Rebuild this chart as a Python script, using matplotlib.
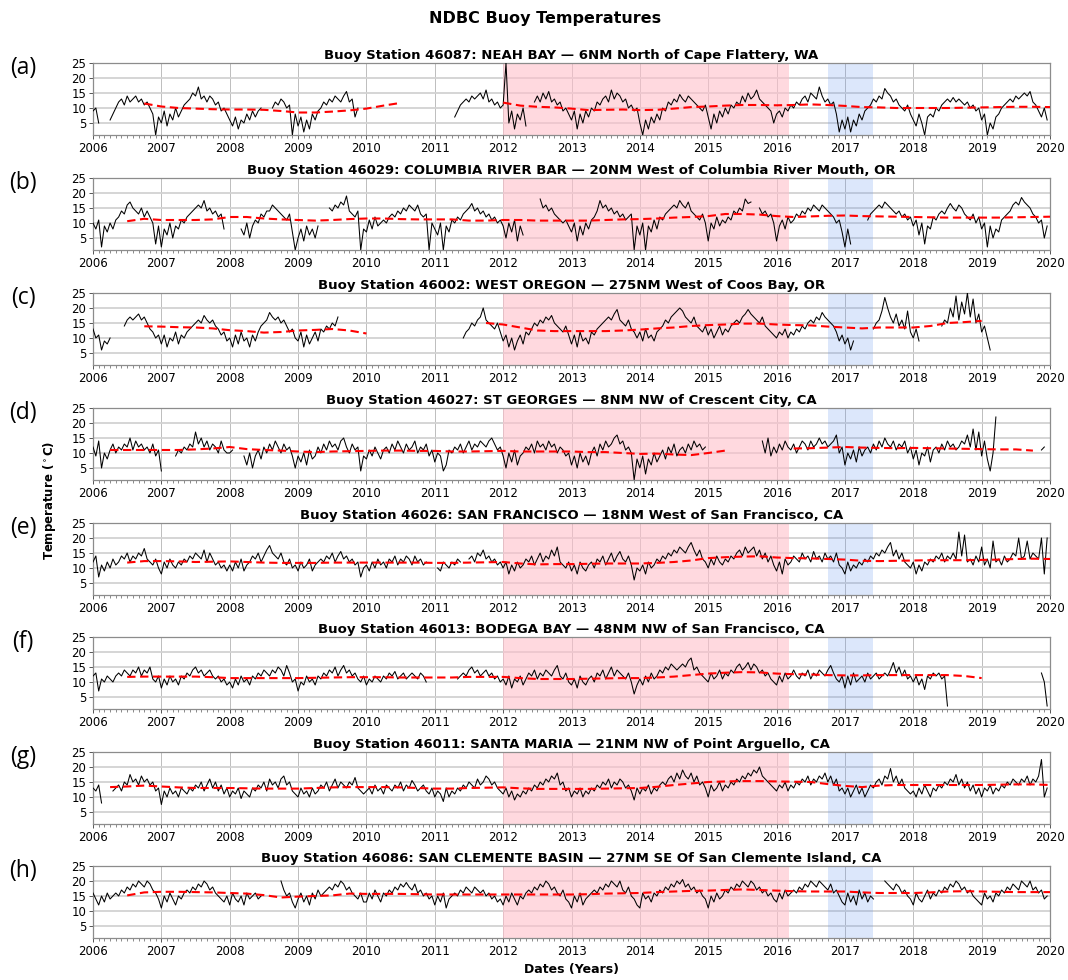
import numpy as np
import matplotlib
matplotlib.use("Agg")
import matplotlib.pyplot as plt

N = None

# ---------------- axis values ----------------
year_ticks = list(range(2006, 2021))
temp_ticks = [5, 10, 15, 20, 25]
start_year = 2006
samples_per_year = 24       # black series: half-monthly readings
trend_per_year = 4          # red trend: quarterly readings

warm_blob_span = (2012.0, 2016.18)
el_nino_span = (2016.75, 2017.41)

panel_letters = ["(a)", "(b)", "(c)", "(d)", "(e)", "(f)", "(g)", "(h)"]
station_titles = [
    "Buoy Station 46087: NEAH BAY \u2014 6NM North of Cape Flattery, WA",
    "Buoy Station 46029: COLUMBIA RIVER BAR \u2014 20NM West of Columbia River Mouth, OR",
    "Buoy Station 46002: WEST OREGON \u2014 275NM West of Coos Bay, OR",
    "Buoy Station 46027: ST GEORGES \u2014 8NM NW of Crescent City, CA",
    "Buoy Station 46026: SAN FRANCISCO \u2014 18NM West of San Francisco, CA",
    "Buoy Station 46013: BODEGA BAY \u2014 48NM NW of San Francisco, CA",
    "Buoy Station 46011: SANTA MARIA \u2014 21NM NW of Point Arguello, CA",
    "Buoy Station 46086: SAN CLEMENTE BASIN \u2014 27NM SE Of San Clemente Island, CA",
]

# ---------------- temperature series (one row per year, 24 half-month values) ----------------
temp_46087 = [
    [9, 10, 5, N, N, N, 6, 8, 10, 12, 13, 11, 14, 12, 13, 14, 12, 13, 11, 12, 10, 8, 1, 7],
    [5, 9, 4, 8, 6, 10, 7, 9, 11, 12, 13, 15, 14, 17, 13, 14, 12, 14, 13, 11, 12, 9, 10, 8],
    [6, 4, 7, 3, 6, 5, 8, 6, 9, 7, 9, 10, N, 11, N, 10, 12, 11, 13, 12, 10, 11, 1, 8],
    [4, 7, 2, 6, 3, 8, 6, 9, 10, 12, 11, 13, 12, 14, 13, 12, 14, 15.5, 12, 13, 7, 10, N, N],
    [N] * 24,
    [N] * 7 + [7, 9, 11, 12, 13, 12, 14, 13, 14, 15, 13, 16, 12, 13, 11, 12, 10],
    [11, 25, 5, 9, 3, 8, 6, 10, 4, N, N, 12, 14, 12, 15, 13, 15.5, 12, 13, 11, 12, 9, 10, 8],
    [6, 9, 3, 8, 5, 9, 7, 10, 9, 12, 11, 13, 14, 12, 16, 13, 15, 14, 12, 13, 10, 11, 9, 10],
    [5, 1, 6, 3, 7, 5, 8, 6, 10, 9, 12, 11, 13, 12, 14.5, 13, 12, 14, 13, 12, 11, 10, 9, 11],
    [7, 3, 8, 5, 9, 7, 10, 8, 11, 10, 12, 11, 14, 12, 15, 13, 14, 16, 13, 12, 11, 10, 9, 5],
    [8, 9, 7, 10, 9, 11, 10, 12, 11, 13, 14, 12, 15, 14, 13, 17, 14, 12, 13, 11, 12, 8, 2, 6],
    [3, 7, 2, 6, 4, 8, 6, 9, 10, 11, 13, 12, 14, 13, 16.5, 15, 14, 12, 13, 11, 10, 9, 11, 8],
    [6, 4, 8, 5, 1, 7, 8, 7, 10, 9, 11, 12, 13, 12, 13.5, 12, 13, 12, 11, 12, 10, 11, 9, 10],
    [6, 8, 1, 5, 3, 7, 8, 10, 11, 12, 13, 12, 14, 13, 14, 15, 14, 15.5, 12, 11, 9, 7, 10, 6],
]
temp_46029 = [
    [10, 8, 11, 2, 9, 7, 10, 8, 11, 12, 14, 13, 16, 17, 15, 14, 13, 15, 12, 14, 12, 10, 3, 9],
    [2, 8, 6, 10, 5, 9, 8, 11, 10, 12, 13, 14, 15, 16, 15, 17.5, 14, 15, 13, 14, 12, 13, 8, N],
    [N, N, N, N, 8, 6, 10, 5, 9, 11, 10, 13, 12, 14, 14, 16, 15, 14, 13, 12, 11, 13, 7, 1],
    [5, 8, 4, 9, 6, 8, 5, 9, N, N, N, 15, 14, 16, 15, 17, 16, 19, 14, 13, 12, 14, 1, 8],
    [7, 11, 8, 12, 9, 10, 11, 10, 12, 13, 12, 14, 13, 15, 14, 16, 15, 14, 16, 13, 12, 13, 1, 10],
    [8, 6, 10, 1, 9, 7, 11, 10, 12, 11, 13, 14, 15, 16.5, 14, 15, 13, 14, 12, 13, 11, 12, 10, 11],
    [9, 5, 10, 7, 11, 4, 9, 6, N, N, N, N, N, 18, 15, 16, 14, 15, 13, 12, 11, 10, 11, 9],
    [7, 10, 4, 9, 6, 10, 8, 11, 12, 14, 17.5, 15, 16, 14, 15, 13, 14, 12, 13, 11, 12, 13, 1, 9],
    [6, 10, 1, 9, 7, 11, 8, 12, 11, 13, 14, 15, 16, 15, 17.5, 16, 15, 17, 14, 13, 12, 11, 13, 10],
    [4, 10, 8, 12, 9, 11, 10, 12, 11, 14, 13, 15, 14, 18, 16.5, 17, N, N, 15, 13, 14, 12, 13, 10],
    [4, 9, 11, 8, 12, 10, 11, 13, 12, 14, 13, 15, 14, 16, 15, 14, 16, 15, 14, 13, 12, 10, 11, 7],
    [2, 8, 3, N, N, N, N, N, 11, 13, 14, 15, 16, 15, 17, 16, 15, 14, 13, 14, 12, 13, 11, 12],
    [9, 11, 6, 10, 3, 9, 8, 12, 11, 13, 14, 13, 15, 16.5, 15, 14, 16, 15, 13, 12, 11, 13, 10, 12],
    [8, 10, 2, 9, 5, 8, 7, 11, 12, 13, 14, 16, 17, 16, 18.5, 17, 16, 15, 13, 12, 10, 11, 5, 9],
]
temp_46002 = [
    [13, 10, 11, 6, 9, 8, 10, N, N, N, N, 14, 16, 17, 16, 17, 18, 16, 17, 15, 13, 12, 10, 11],
    [8, 11, 7, 10, 9, 12, 8, 11, 10, 12, 13, 14, 15, 16, 15, 17.5, 16, 15, 16, 14, 13, 11, 12, 9],
    [10, 7, 11, 8, 12, 9, 10, 7, 11, 9, 12, 14, 15, 16, 18.5, 17, 16, 17, 15, 16, 14, 12, 13, 10],
    [9, 12, 7, 11, 8, 10, 12, 9, 13, 12, 14, 13, 15, 14, 17] + [N] * 9,
    [N] * 24,
    [N] * 10 + [10, 12, 13, 15, 14, 16, 17, 20, 16, 15, 14, 13, 15, 12],
    [9, 11, 7, 10, 6, 9, 11, 8, 12, 11, 13, 15, 14, 16, 15, 17, 16, 17.5, 15, 14, 13, 12, 14, 11],
    [8, 11, 7, 12, 9, 10, 8, 12, 11, 13, 14, 15, 16, 17, 16, 18, 19.5, 16, 15, 14, 16, 13, 12, 10],
    [12, 9, 13, 10, 11, 9, 12, 13, 14, 16, 15, 17, 18, 19, 20, 19, 17, 16, 15, 17, 14, 13, 12, 14],
    [11, 13, 10, 12, 14, 11, 13, 12, 14, 15, 16, 15, 17, 18, 19.5, 18, 17, 16, 15, 17, 14, 13, 12, 11],
    [10, 12, 11, 13, 10, 12, 11, 13, 12, 14, 13, 15, 16, 15, 17, 16, 18.5, 17, 16, 15, 14, 12, 9, 11],
    [8, 10, 6, 9, N, N, N, N, N, N, 13, 15, 16, 19, 23.5, 20, 17, 15, 18, 14, 16, 13, 19, 12],
    [10, 13, 9, N, N, N, N, N, N, N, 14, 16, 15, 20, 17, 24, 16, 22, 18, 25, 17, 23, 15, 18],
    [12, 14, 10, 6] + [N] * 20,
]
temp_46027 = [
    [12, 9, 14, 5, 10, 8, 11, 13, 10, 12, 11, 13, 12, 15, 11, 14, 12, 13, 11, 12, 10, 13, 9, 11],
    [4, N, N, N, N, 9, 11, 10, 12, 11, 13, 12, 17, 13, 15, 12, 14, 11, 13, 12, 10, 14, 11, 10],
    [10, 11, N, N, N, 9, 6, 10, 5, 9, 11, 8, 12, 10, 13, 11, 14, 12, 10, 13, 11, 12, 9, 5],
    [9, 7, 10, 6, 11, 8, 9, 12, 10, 13, 11, 14, 12, 13, 11, 14, 15, 12, 10, 13, 11, 12, 4, 9],
    [8, 11, 9, 12, 10, 8, 11, 12, 10, 13, 11, 14, 12, 10, 13, 11, 12, 14, 10, 12, 11, 13, 9, 11],
    [7, 10, 9, 4, 6, 11, 10, 12, 11, 13, 10, 12, 14, 11, 13, 12, 14, 13, 12, 14, 15, 13, 11, 12],
    [9, 5, 10, 7, 11, 6, 9, 10, 12, 11, 13, 10, 14, 12, 13, 11, 14, 12, 13, 10, 12, 11, 9, 10],
    [6, 9, 5, 10, 7, 9, 6, 10, 12, 9, 13, 11, 14, 12, 13, 15, 16, 13, 14, 11, 12, 10, 1, 8],
    [5, 9, 3, 8, 6, 10, 7, 9, 11, 8, 12, 10, 13, 9, 11, 12, 10, 13, 11, 14, 12, 13, 11, 12],
    [N] * 19 + [14, 10, 15, 9, 12],
    [10, 13, 11, 14, 12, 11, 13, 10, 12, 14, 13, 11, 14, 12, 13, 15, 13, 14, 12, 13, 14, 16, 10, 12],
    [6, 10, 8, 11, 7, 12, 9, 11, 12, 10, 13, 11, 14, 12, 15, 13, 12, 14, 11, 13, 12, 14, 10, 12],
    [8, 11, 6, 10, 9, 12, 7, 11, 12, 10, 13, 11, 14, 12, 13, 11, 12, 14, 13, 16, 12, 18, 11, 17],
    [9, 14, 8, 4, 10, 22] + [N] * 15 + [11, 12, N],
]
temp_46026 = [
    [12, 14, 7, 11, 9, 12, 10, 13, 11, 12, 14, 13, 15, 12, 14, 13, 15, 14, 16.5, 13, 12, 11, 13, 10],
    [8, 12, 10, 13, 11, 10, 12, 11, 13, 12, 14, 13, 15, 14, 13, 16, 12, 15, 13, 11, 12, 10, 11, 9],
    [11, 9, 12, 10, 13, 9, 11, 12, 14, 13, 15, 12, 14, 16, 17.5, 15, 14, 13, 15, 12, 11, 13, 10, 11],
    [9, 12, 10, 11, 13, 9, 11, 12, 13, 12, 14, 13, 15, 12, 14, 15.5, 13, 14, 12, 13, 11, 12, 7, 10],
    [11, 9, 12, 10, 13, 11, 12, 10, 13, 12, 14, 11, 13, 12, 14, 13, 11, 14, 12, 13, 11, 12, N, N],
    [N, 10, 9, 12, 11, 10, 12, 11, 13, 12, N, N, 13, 14, 12, 15, 14, 16, 13, 14, 12, 13, 11, 12],
    [10, 12, 8, 11, 9, 12, 10, 11, 13, 12, 14, 11, 13, 15, 12, 14, 13, 16, 14, 17, 12, 11, 10, 12],
    [9, 11, 8, 12, 10, 9, 11, 12, 10, 13, 12, 14, 11, 13, 15, 12, 14, 15.5, 13, 12, 14, 11, 6, 10],
    [9, 11, 8, 12, 10, 11, 13, 12, 14, 13, 15, 14, 16, 15, 17, 16, 15, 17, 18.5, 16, 14, 16, 13, 12],
    [10, 13, 11, 14, 12, 11, 13, 12, 14, 13, 15, 16, 14, 17, 15, 16, 17, 14, 16, 13, 15, 12, 14, 11],
    [9, 12, 8, 13, 11, 12, 14, 13, 12, 15, 13, 14, 12, 15.5, 13, 14, 12, 15, 13, 14, 12, 15, 11, 10],
    [8, 12, 9, 11, 10, 12, 11, 13, 12, 14, 13, 15, 14, 16, 15, 17, 18.5, 14, 16, 13, 15, 12, 11, 10],
    [12, 8, 11, 9, 12, 11, 13, 12, 14, 13, 15, 12, 14, 13, 15, 13, 22, 14, 21, 12, 13, 11, 14, 12],
    [17, 11, 13, 10, 19, 12, 13, 11, 14, 12, 13, 15, 14, 20, 13, 14, 19, 13, 15, 14, 13, 20, 8, 20],
]
temp_46013 = [
    [12, 13, 7, 11, 10, 12, 11, 10, 12, 13, 12, 14, 13, 12, 14, 13, 15, 12, 14, 13, 15, 11, 10, 12],
    [8, 11, 9, 12, 10, 11, 9, 12, 11, 13, 12, 14, 15, 13, 14, 12, 13, 14, 12, 11, 12, 10, 11, 9],
    [10, 8, 11, 9, 12, 10, 11, 9, 12, 11, 13, 12, 14, 13, 12, 14, 13, 15, 14, 12, 15.5, 13, 10, 11],
    [7, 10, 9, 12, 10, 11, 9, 12, 11, 13, 12, 14, 13, 15, 12, 14, 15.5, 13, 14, 12, 13, 11, 10, 12],
    [9, 11, 10, 12, 11, 10, 12, 11, 13, 12, 13.5, 11, 12, 13, 11, 12, 13, 12, 11, 13, 12, 10, N, N],
    [N] * 8 + [11, 12, 13, 12, 14, 15, 13, 14, 12, 13, 14, 12, 13, 11, 12, 10],
    [11, 9, 12, 8, 11, 10, 12, 9, 11, 13, 12, 14, 11, 13, 12, 14, 13, 12, 14, 15.5, 12, 11, 13, 10],
    [9, 11, 8, 12, 10, 9, 11, 12, 10, 13, 12, 14, 11, 13, 15, 12, 14, 13, 12, 11, 13, 10, 6, 9],
    [11, 9, 12, 10, 13, 11, 12, 14, 13, 15, 14, 16, 15, 14, 15, 16, 15, 17, 18, 14, 15, 13, 12, 11],
    [10, 13, 11, 12, 14, 11, 13, 12, 14, 13, 15, 16, 14, 15, 16.5, 14, 16, 15, 13, 14, 12, 13, 11, 10],
    [9, 12, 10, 13, 11, 12, 14, 12, 11, 13, 12, 14, 11, 13, 12, 14, 13, 12, 14, 15.5, 13, 11, 10, 12],
    [8, 12, 9, 13, 10, 11, 12, 10, 13, 11, 12, 13, 11, 12, 13, 12, 14, 16.5, 13, 15, 12, 14, 11, 12],
    [10, 12, 9, 11, 7.5, 12, 11, 13, 12, 13, 11, 12, 2] + [N] * 11,
    [N] * 21 + [13, 10, 2],
]
temp_46011 = [
    [13, 12, 14, 8, N, N, N, 12, 13, 14, 12, 15, 14, 17.5, 15, 16, 14, 17, 15, 16, 14, 15, 12, 13],
    [7.5, 12, 10, 13, 11, 12, 10, 13, 12, 11, 13, 12, 14, 13, 15, 12, 14, 16, 13, 15, 12, 14, 11, 13],
    [10, 12, 11, 13, 9.5, 12, 11, 10, 13, 12, 14, 13, 15, 12, 16, 14, 15, 13, 16, 17, 14, 15, 12, 11],
    [10, 13, 11, 12, 10, 13, 11, 12, 14, 13, 15, 12, 14, 16, 13, 15, 14, 13, 15, 14, 16.5, 13, 12, 11],
    [12, 13, 11, 14, 12, 13, 11, 14, 13, 12, 14, 13, 15, 12, 14, 13, 15.5, 14, 12, 13, 14, 12, 11, 13],
    [10, 12, 11, 8.5, 13, 10, 12, 11, 13, 12, 14, 13, 15, 14, 13, 16, 14, 15, 17, 16, 14, 15, 13, 12],
    [11, 13, 10, 12, 9, 11, 10, 12, 11, 13, 12, 14, 13, 15, 14, 16, 15, 17, 16, 18, 14, 15, 12, 13],
    [10, 12, 11, 13, 10, 12, 11, 13, 12, 14, 13, 15, 14, 16, 13, 15, 14, 16, 15, 13, 14, 12, 9, 13],
    [11, 13, 12, 14, 11, 13, 12, 14, 15, 14, 16, 17, 15, 18, 16, 19, 17, 16, 18, 15, 17, 14, 15, 13],
    [10, 14, 12, 13, 15, 12, 14, 13, 15, 14, 16, 15, 17, 16, 18, 17, 19, 18, 20, 17, 16, 15, 14, 13],
    [12, 14, 13, 15, 12, 14, 13, 15, 14, 16, 15, 17, 14, 16, 15, 17, 16, 18, 15, 17, 14, 16, 12, 13],
    [11, 13, 10, 12, 14, 11, 13, 10, 12, 14, 13, 15, 16, 14, 17, 16, 19.5, 15, 17, 14, 16, 13, 12, 11],
    [12, 10, 13, 11, 14, 12, 10, 13, 12, 14, 13, 15, 14, 16, 15, 17.5, 14, 16, 13, 15, 12, 14, 11, 13],
    [10, 13, 12, 14, 11, 13, 12, 14, 13, 15, 14, 16, 15, 14, 16, 15, 17, 14, 16, 15, 17, 22.5, 10, 13],
]
temp_46086 = [
    [16, 14, 12, 15, 13, 16, 14, 15, 16, 15, 17, 16, 18, 17, 19, 18, 20, 19, 18, 20, 19, 17, 16, 14],
    [11, 15, 13, 16, 14, 12, 15, 14, 16, 17, 16, 18, 17, 19, 18, 20, 19, 17, 18, 16, 15, 14, 13, 15],
    [12, 16, 14, 13, 15, 12, 16, 14, 15, 16, 14, 15, N, N, N, N, N, N, 20, 17, 15, 16, 13, 11],
    [14, 16, 13, 15, 12, 16, 14, 17, 15, 16, 17, 18, 17, 19, 18, 20, 19, 17, 18, 16, 15, 14, 16, 13],
    [13, 16, 14, 17, 15, 13, 16, 15, 17, 16, 18, 17, 19, 18, 19.5, 18, 17, 19, 16, 17, 15, 16, 14, 15],
    [12, 15, 13, 16, 11, 14, 15, 16, 15, 17, 16, 18, 17, 16, 18, 17, 16, 17, 15, 16, 14, 15, 13, 14],
    [12, 15, 13, 16, 14, 12, 15, 14, 16, 17, 16, 18, 17, 19, 18, 20, 19, 17, 18, 16, 15, 17, 14, 13],
    [11, 15, 13, 16, 12, 14, 15, 16, 17, 16, 18, 17, 19, 18, 20, 19, 18, 20, 17, 16, 18, 15, 14, 12],
    [11, 16, 14, 15, 13, 16, 15, 17, 16, 18, 17, 19, 18, 20, 19, 20.5, 18, 19, 17, 18, 16, 17, 15, 14],
    [11, 15, 13, 16, 14, 15, 17, 16, 18, 17, 19, 18, 20, 19, 18, 20, 19, 17, 18, 16, 17, 15, 16, 14],
    [13, 16, 14, 17, 15, 16, 17, 16, 18, 17, 19, 18, 20, 19, 18, 20, 19, 18, 17, 19, 16, 17, 15, 13],
    [12, 16, 13, 15, 12, 17, 14, 16, 13, 15, 14, N, N, N, 20, 19, 18, 17, 19, 18, 16, 17, 15, 14],
    [12, 16, 14, 13, 15, 17, 14, 16, 15, 17, 16, 18, 17, 19, 18, 20, 19, 17, 18, 16, 17, 15, 14, 13],
    [12, 16, 14, 15, 13, 16, 15, 17, 16, 18, 17, 19, 18, 17, 20, 19, 18, 20, 17, 18, 16, 17, 14, 15],
]

# ---------------- red trend lines (quarterly, 2006.0 ... 2020.0) ----------------
trend_46087 = [N, N, N, 11.5, 10.5, 10, 9.8, 9.6, 9.5, 9.5, 9.4, 9.0, 8.5, 8.5, 8.8, 9.2,
               9.8, 10.8, 11.7, N, N, N, N, N, 11.8, 10.8, 10.4, 10.2, 9.8, 9.3, 9.4, 9.5,
               9.3, 9.4, 9.8, 10.3, 10.5, 10.8, 11, 11, 10.9, 11, 11.2, 11, 10.7, 10.3, 10.2, 10,
               10, 10, 10, 10.1, 10.2, 10.3, 10.4, 10.4, 10.3]
trend_46029 = [N, N, 10.6, 11.4, 11, 11, 11, 11.2, 12.0, 12, 11.5, 11.2, 11, 10.8, 11, 11.3,
               11.5, 11.5, 11.3, 11.2, 11.2, 11.2, 10.8, 10.8, 11, 11, 10.8, 10.8, 10.8, 10.8, 11, 11.2,
               11.3, 11.5, 11.8, 12, 12.3, 13, 13, 12.8, 12.3, 12, 12.2, 12.4, 12.5, 12.3, 12.2, 12.1,
               12, 11.9, 11.8, 11.8, 11.8, 11.8, 11.9, 12, 12.1]
trend_46002 = [N, N, N, 13.9, 13.8, 13.6, 13.5, 13.2, 12.6, 12.3, 11.8, 12.0, 12.5, 12.7, 13, 12.5,
               11.5, N, N, N, N, N, N, 15, 14.5, 13.5, 12.5, 12.3, 12.3, 12.3, 12.3, 12.5,
               12.8, 13.2, 13.5, 14, 14.3, 14.5, 14.8, 14.8, 14.5, 14.3, 14.2, 13.8, 13.5, 13.2, 13.5, 13.5,
               13.5, 14, 15, 15.3, 15.7, N, N, N, N]
trend_46027 = [N, 11, 11, 11, 11, 11, 11.2, 11.5, 12.0, 11.3, 11, 10.8, 10.5, 10.3, 10.5, 10.6,
               10.7, 10.8, 10.8, 10.7, 10.7, 10.5, 10.5, 10.6, 10.7, 10.5, 10.5, 10.5, 10.5, 10.3, 10.3, 10,
               9.7, 9.8, 9.5, 9.3, 10, 10.8, N, N, N, 11.5, 11.6, 11.8, 12, 11.8, 11.7, 11.6,
               11.7, 11.6, 11.5, 11.4, 11.3, 11.2, 11.2, 10.8, N]
trend_46026 = [N, N, 11.8, 12.3, 12.3, 12.2, 12, 12.1, 12.2, 12, 11.8, 11.7, 11.7, 11.7, 11.8, 11.8,
               11.8, 11.8, 11.8, 11.8, 11.7, 11.7, 11.8, 11.9, 12, 11.5, 11.2, 11.3, 11.3, 11.4, 11.5, 11.5,
               11.5, 11.7, 12, 12.5, 13.3, 13.6, 13.8, 13.9, 13.5, 13.3, 13.2, 13, 12.8, 12.4, 12.3, 12.4,
               12.5, 12.6, 12.6, 12.6, 12.7, 12.8, 13, 13.1, 13]
trend_46013 = [N, N, 11.7, 11.8, 11.8, 11.8, 11.8, 11.6, 11.3, 11.3, 11.3, 11.3, 11.3, 11.4, 11.5, 11.6,
               11.6, 11.6, 11.5, 11.5, 11.5, 11.5, 11.7, 11.7, 11.7, 11.3, 11, 11, 11, 11.1, 11.2, 11.3,
               11.3, 11.5, 11.8, 12.3, 12.8, 13.1, 13.3, 13.2, 12.8, 12.6, 12.5, 12.3, 12.2, 12.2, 12.3, 12.3,
               12.3, 12.3, 12.3, 12, 11.3, N, N, N, N]
trend_46011 = [N, 13.3, 13.5, 13.8, 13.5, 13.2, 13, 13, 13, 12.9, 12.8, 12.8, 12.8, 13, 13.2, 13.3,
               13.3, 13.3, 13.2, 13, 12.8, 12.8, 13, 13.1, 13.2, 12.9, 12.7, 12.7, 12.7, 12.7, 12.8, 12.9,
               13, 13.4, 14, 14.5, 15, 15.2, 15.3, 15.3, 15.2, 15.1, 15, 14.3, 13.7, 13.3, 13.8, 14,
               14, 14, 14, 14, 14, 14.1, 14.2, 14.2, 14]
trend_46086 = [N, N, 15.2, 16.2, 16.4, 16.4, 16.3, 16.2, 16, 15.8, 15.3, 14.5, 14.8, 15, 15.2, 15.8,
               15.7, 15.7, 15.7, 15.6, 15.5, 15.5, 15.5, 15.5, 15.5, 15.5, 15.5, 15.5, 15.5, 15.6, 15.8, 15.9,
               16, 16.3, 16.5, 16.7, 16.8, 17, 17.2, 17, 16.8, 16.6, 16.5, 16.5, 16.5, 16.2, 16, 16,
               16, 16.2, 16.5, 16.6, 16.5, 16.4, 16.3, 16.3, 16.3]

temp_series = [temp_46087, temp_46029, temp_46002, temp_46027,
               temp_46026, temp_46013, temp_46011, temp_46086]
trend_series = [trend_46087, trend_46029, trend_46002, trend_46027,
                trend_46026, trend_46013, trend_46011, trend_46086]


def flatten_rows(rows, per):
    out = []
    for r in rows:
        r = list(r)
        if len(r) != per:
            r = (r + [None] * per)[:per]
        out.extend(r)
    return np.array(out, dtype=float)


# ---------------- figure ----------------
W, H = 1068, 980
fig = plt.figure(figsize=(W / 100, H / 100), dpi=100)

left_px, right_px = 93, 1050
axes_top_px = [63, 178, 293, 408, 523, 637, 752, 866]
axes_h_px = 72

fig.text(0.51, 1 - 18 / H, "NDBC Buoy Temperatures", ha="center", va="center",
         fontsize=11.5, fontweight="bold")

minor_x = np.arange(start_year, year_ticks[-1] + 1e-9, 1 / 12)

for k in range(8):
    top = axes_top_px[k]
    ax = fig.add_axes([left_px / W, 1 - (top + axes_h_px) / H,
                       (right_px - left_px) / W, axes_h_px / H])
    ax.set_axisbelow(True)
    ax.grid(True, axis="y", color="#d2d2d2", linewidth=1.3)
    ax.grid(True, axis="x", color="#bdbdbd", linewidth=0.7)

    ax.axvspan(*warm_blob_span, facecolor="pink", alpha=0.6, linewidth=0, zorder=1)
    ax.axvspan(*el_nino_span, facecolor="cornflowerblue", alpha=0.22, linewidth=0, zorder=1)

    vals = flatten_rows(temp_series[k], samples_per_year)
    t = start_year + np.arange(len(vals)) / samples_per_year
    ax.plot(t, vals, color="black", linewidth=0.75, zorder=3)

    tr = np.array([np.nan if v is None else v for v in trend_series[k]], dtype=float)
    tt = start_year + np.arange(len(tr)) / trend_per_year
    ax.plot(tt, tr, color="red", linewidth=1.5, linestyle=(0, (4, 2.2)), zorder=4)

    ax.set_xlim(year_ticks[0], year_ticks[-1])
    ax.set_ylim(1, 25)
    ax.set_xticks(year_ticks)
    ax.set_xticklabels([str(y) for y in year_ticks])
    ax.set_xticks(minor_x, minor=True)
    ax.set_yticks(temp_ticks)
    ax.tick_params(axis="both", which="major", labelsize=8.5, length=3, width=0.7,
                   color="#555555", pad=2)
    ax.tick_params(axis="x", which="minor", length=2, width=0.6, color="#777777")
    for s in ax.spines.values():
        s.set_color("#8c8c8c")
        s.set_linewidth(0.9)

    ax.set_title(station_titles[k], fontsize=9.5, fontweight="bold", pad=3)
    fig.text(23 / W, 1 - (top + 5) / H, panel_letters[k], ha="center", va="center",
             fontsize=16.5, family="Open Sans")

fig.text(50 / W, 1 - 500 / H, "Temperature ($^\\circ$C)", rotation=90, ha="center",
         va="center", fontsize=8.5, fontweight="bold")
fig.text(0.535, 1 - 969 / H, "Dates (Years)", ha="center", va="center",
         fontsize=9, fontweight="bold")

fig.savefig("out.png", dpi=100)
